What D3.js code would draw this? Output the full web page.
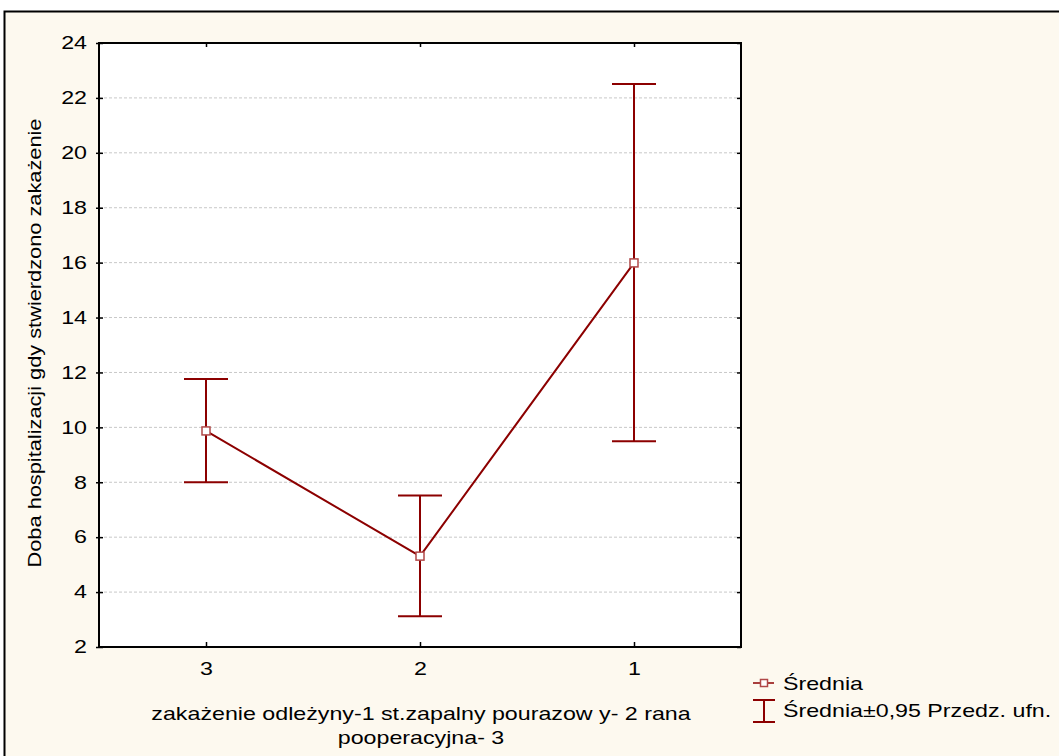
<!DOCTYPE html>
<html>
<head>
<meta charset="utf-8">
<script src="https://cdn.jsdelivr.net/npm/d3@7"></script>
<style>
  html, body { margin: 0; padding: 0; background: #ffffff; }
  svg { display: block; }
  text { font-family: "Liberation Sans", Arial, sans-serif; fill: #000; }
</style>
</head>
<body>
<svg id="chart" width="1059" height="756"></svg>
<script>
// Infection group codes along the x axis
const categories = ["3", "2", "1"];
// Mean hospital day of infection detection, per group
const means = [9.87, 5.31, 15.99];
// 95% confidence interval bounds
const lower = [8.0, 3.12, 9.49];
const upper = [11.76, 7.52, 22.51];
// Y-axis ticks
const yTicks = [2, 4, 6, 8, 10, 12, 14, 16, 18, 20, 22, 24];

const yTitle = "Doba hospitalizacji gdy stwierdzono zakażenie";
const xTitle = ["zakażenie odleżyny-1 st.zapalny pourazow y- 2 rana", "pooperacyjna- 3"];
const legendLabels = ["Średnia", "Średnia±0,95 Przedz. ufn."];

const dark = "#8c0000";
const markerStroke = "#b04848";
const cream = "#fdf9ef";
const FS = "18px";
const SX = 1.29; // wide lettering

const svg = d3.select("#chart");

// move a text's x/y into a transform so its glyphs can be widened
function widen(sel, extra = "", sx = SX) {
  sel.each(function () {
    const t = d3.select(this);
    const x = +t.attr("x") || 0;
    const y = +t.attr("y") || 0;
    t.attr("x", 0).attr("y", 0)
      .attr("transform", `translate(${x},${y}) ${extra} scale(${sx},1)`);
  });
}

// outer frame and background
svg.append("rect")
  .attr("x", 4.5).attr("y", 11.5)
  .attr("width", 1100).attr("height", 800)
  .attr("fill", cream).attr("stroke", "#000").attr("stroke-width", 2);

const plot = { left: 99, top: 43, right: 741, bottom: 647 };

const x = d3.scalePoint().domain(categories)
  .range([plot.left, plot.right]).padding(0.5);
const y = d3.scaleLinear().domain([2, 24]).range([plot.bottom, plot.top]);

// plot area
svg.append("rect")
  .attr("x", plot.left).attr("y", plot.top)
  .attr("width", plot.right - plot.left).attr("height", plot.bottom - plot.top)
  .attr("fill", "#fff");

// dashed gridlines
svg.append("g").selectAll("line")
  .data(yTicks.filter(d => d !== 2 && d !== 24))
  .join("line")
  .attr("x1", plot.left).attr("x2", plot.right)
  .attr("y1", d => y(d)).attr("y2", d => y(d))
  .attr("stroke", "#c8c8c8").attr("stroke-width", 1)
  .attr("stroke-dasharray", "3,2");

// left axis
const yAxis = d3.axisLeft(y).tickValues(yTicks).tickSize(3).tickPadding(9);
const gy = svg.append("g").attr("transform", `translate(${plot.left},0)`).call(yAxis);
gy.select(".domain").remove();
gy.selectAll(".tick line").attr("x2", -3).attr("x1", 4).attr("stroke", "#000").attr("stroke-width", 1.5);
gy.selectAll(".tick text").style("font-size", FS)
  .style("font-family", "'Liberation Sans', Arial, sans-serif").attr("fill", "#000");
widen(gy.selectAll(".tick text"));

// right axis ticks (inward)
const gyr = svg.append("g").attr("transform", `translate(${plot.right},0)`)
  .call(d3.axisRight(y).tickValues(yTicks).tickSize(-4).tickFormat(""));
gyr.select(".domain").remove();
gyr.selectAll(".tick line").attr("stroke", "#000").attr("stroke-width", 1.5);

// bottom axis
const gx = svg.append("g").attr("transform", `translate(0,${plot.bottom})`)
  .call(d3.axisBottom(x).tickSize(-5).tickPadding(15));
gx.select(".domain").remove();
gx.selectAll(".tick line").attr("stroke", "#000").attr("stroke-width", 1.5);
gx.selectAll(".tick text").style("font-size", FS)
  .style("font-family", "'Liberation Sans', Arial, sans-serif").attr("fill", "#000")
  .attr("dy", "0.71em");
widen(gx.selectAll(".tick text"));

// top axis ticks (inward)
const gxt = svg.append("g").attr("transform", `translate(0,${plot.top})`)
  .call(d3.axisTop(x).tickSize(-4).tickFormat(""));
gxt.select(".domain").remove();
gxt.selectAll(".tick line").attr("stroke", "#000").attr("stroke-width", 1.5);

// plot frame
svg.append("rect")
  .attr("x", plot.left).attr("y", plot.top)
  .attr("width", plot.right - plot.left).attr("height", plot.bottom - plot.top)
  .attr("fill", "none").attr("stroke", "#000").attr("stroke-width", 2);

// error bars
const capHalf = 22;
const bars = svg.append("g");
categories.forEach((c, i) => {
  const cx = x(c);
  bars.append("line").attr("x1", cx).attr("x2", cx)
    .attr("y1", y(lower[i])).attr("y2", y(upper[i]))
    .attr("stroke", dark).attr("stroke-width", 2);
  [lower[i], upper[i]].forEach(v => {
    bars.append("line").attr("x1", cx - capHalf).attr("x2", cx + capHalf)
      .attr("y1", y(v)).attr("y2", y(v))
      .attr("stroke", dark).attr("stroke-width", 2);
  });
});

// mean line
const pts = categories.map((c, i) => [x(c), y(means[i])]);
svg.append("path")
  .attr("d", d3.line()(pts))
  .attr("fill", "none").attr("stroke", dark).attr("stroke-width", 2);

// markers
svg.append("g").selectAll("rect")
  .data(pts).join("rect")
  .attr("x", d => d[0] - 4).attr("y", d => d[1] - 4)
  .attr("width", 8).attr("height", 8)
  .attr("fill", "#fff").attr("stroke", markerStroke).attr("stroke-width", 1.5);

// axis titles
const yt = svg.append("text")
  .attr("x", 41).attr("y", 343)
  .attr("text-anchor", "middle")
  .style("font-size", FS)
  .text(yTitle);
widen(yt, "rotate(-90)", 1.21);

const xt = svg.append("g").selectAll("text")
  .data(xTitle).join("text")
  .attr("x", 421).attr("y", (d, i) => 720 + i * 24)
  .attr("text-anchor", "middle")
  .style("font-size", FS)
  .text(d => d);
widen(xt);

// legend
const lg = svg.append("g");
lg.append("line").attr("x1", 753).attr("x2", 774).attr("y1", 683).attr("y2", 683)
  .attr("stroke", dark).attr("stroke-width", 1.5);
lg.append("rect").attr("x", 760.5).attr("y", 679.5).attr("width", 7).attr("height", 7)
  .attr("fill", "#fff").attr("stroke", markerStroke).attr("stroke-width", 1.5);
lg.append("line").attr("x1", 764).attr("x2", 764).attr("y1", 700).attr("y2", 722)
  .attr("stroke", dark).attr("stroke-width", 2);
[700, 722].forEach(v => lg.append("line").attr("x1", 753).attr("x2", 775)
  .attr("y1", v).attr("y2", v).attr("stroke", dark).attr("stroke-width", 2));
const lt = lg.selectAll("text.leg").data(legendLabels).join("text")
  .attr("class", "leg")
  .attr("x", 783).attr("y", (d, i) => 690 + i * 27)
  .style("font-size", FS)
  .text(d => d);
widen(lt);
</script>
</body>
</html>
